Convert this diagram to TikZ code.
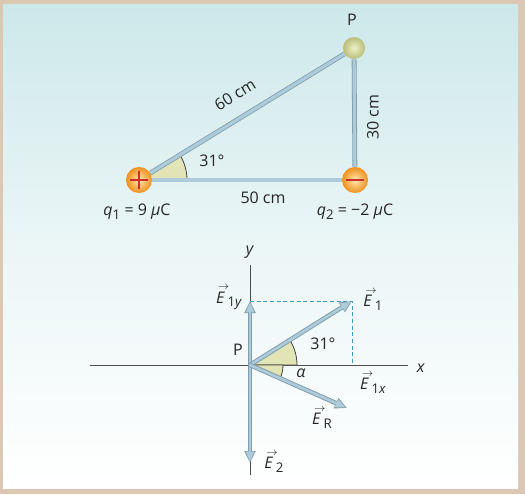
\documentclass[tikz,border=0pt]{standalone}
\usepackage{fontspec}
\setmainfont{Open Sans}
\usetikzlibrary{arrows.meta}
\definecolor{frametan}{HTML}{DCC8B2}
\definecolor{bgtop}{HTML}{CDE8EA}
\definecolor{rodfill}{HTML}{ADCBD9}
\definecolor{rodedge}{HTML}{7F9DAC}
\definecolor{wedgefill}{HTML}{E2E4B6}
\definecolor{dashblue}{HTML}{3C9CC8}
\definecolor{signred}{HTML}{C8322A}
\definecolor{chargein}{HTML}{FFE9B0}
\definecolor{chargeout}{HTML}{F0901E}
\definecolor{pointin}{HTML}{EEF0C8}
\definecolor{pointout}{HTML}{B9BE78}
\pgfdeclarelayer{bg}
\pgfsetlayers{bg,main}
\newcommand{\sub}[1]{\raisebox{-0.45ex}{\fontsize{10}{11}\selectfont #1}}
\newcommand{\vecE}[1]{\makebox[0pt][l]{\raisebox{1.55ex}{\hspace{0.12em}$\scriptstyle\rightarrow$}}\textit{E}\,\sub{#1}}

\begin{document}
\begin{tikzpicture}[x=0.75pt, y=-0.75pt, every node/.style={font=\fontsize{12}{14}\selectfont, text=black!85},
  ball/.style={circle, minimum size=19.5pt, inner sep=0pt, shading=radial, inner color=chargein, outer color=chargeout},
  rod/.style={draw=rodedge, line width=0.6pt, double=rodfill, double distance=2.4pt},
  wedge/.style={fill=wedgefill, draw=black!75, line width=0.6pt},
  vec/.style={draw=rodfill, line width=2pt, shorten >=1.1pt, -{Triangle[length=7.5pt, width=6pt]},
    preaction={draw=rodedge, line width=3.4pt, shorten >=0pt, -{Triangle[length=9pt, width=8pt]}}},
  axis/.style={draw=black!70, line width=0.6pt},
  helper/.style={draw=dashblue, line width=0.6pt, dash pattern=on 3pt off 2pt},
  sign/.style={draw=signred, line width=2.2pt}]
\useasboundingbox (0,0) rectangle (525,494);
\begin{pgfonlayer}{bg}
\fill[frametan] (0,0) rectangle (525,494);
\shade[top color=bgtop, bottom color=white, middle color=bgtop!40] (3,4) rectangle (518,488);
\end{pgfonlayer}

% charges and point P
\node[ball] (q1) at (139,180) {}; \node[ball] (q2) at (355,180) {};
\node[ball, inner color=pointin, outer color=pointout, minimum size=16.5pt] (P) at (354,48) {};
\draw[sign] ([xshift=-6.5pt]q1.center) -- ([xshift=6.5pt]q1.center); \draw[sign] ([yshift=-6.5pt]q1.center) -- ([yshift=6.5pt]q1.center);
\draw[sign] ([xshift=-6.5pt]q2.center) -- ([xshift=6.5pt]q2.center);
\begin{pgfonlayer}{bg}
\draw[wedge] (q1.center) -- ++(48,0) arc[start angle=0, end angle=-31.5, radius=48] -- cycle;
\end{pgfonlayer}
\draw[rod] (q1) -- (P); \draw[rod] (P) -- (q2); \draw[rod] (q1) -- (q2);
\node (Plbl) at (352,20) {P};
\node[rotate=31.5] (l60) at (235,95) {60 cm}; \node[rotate=90] (l30) at (373,117) {30 cm};
\node (l50) at (263,198) {50 cm}; \node (a31) at (212,161) {31°};
\node (q1lbl) at (137,212) {\textit{q}\sub{1} = 9 \textit{μ}C}; \node (q2lbl) at (355,212) {\textit{q}\sub{2} = −2 \textit{μ}C};

% field vectors at P
\coordinate (O) at (250,365); \coordinate (xl) at (90,365); \coordinate (xr) at (408,365);
\coordinate (yt) at (250,265); \coordinate (yb) at (250,475);
\coordinate (E1) at (352,301); \coordinate (E1y) at (250,301); \coordinate (E1x) at (352,365);
\coordinate (ER) at (347,408); \coordinate (E2) at (250,463);
\draw[axis] (xl) -- (xr); \draw[axis] (yt) -- (yb);
\draw[wedge] (O) -- ++(47,0) arc[start angle=0, end angle=-31.8, radius=47] -- cycle;
\draw[wedge] (O) -- ++(33,0) arc[start angle=0, end angle=23.9, radius=33] -- cycle;
\draw[helper] (E1y) -- (E1) -- (E1x);
\draw[vec] (O) -- (E1y); \draw[vec] (O) -- (E2); \draw[vec] (O) -- (E1); \draw[vec] (O) -- (ER);
\node (ylbl) at (250,252) {\textit{y}}; \node (xlbl) at (421,368) {\textit{x}};
\node (Olbl) at (238,350) {P}; \node (b31) at (323,344) {31°}; \node (alpha) at (301,373) {\textit{α}};
\node (E1lbl) at (373,300) {\vecE{1}}; \node (E1ylbl) at (229,298) {\vecE{1\textit{y}}};
\node (E1xlbl) at (373,383) {\vecE{1\textit{x}}}; \node (ERlbl) at (322,418) {\vecE{R}};
\node (E2lbl) at (274,462) {\vecE{2}};
\end{tikzpicture}
\end{document}
